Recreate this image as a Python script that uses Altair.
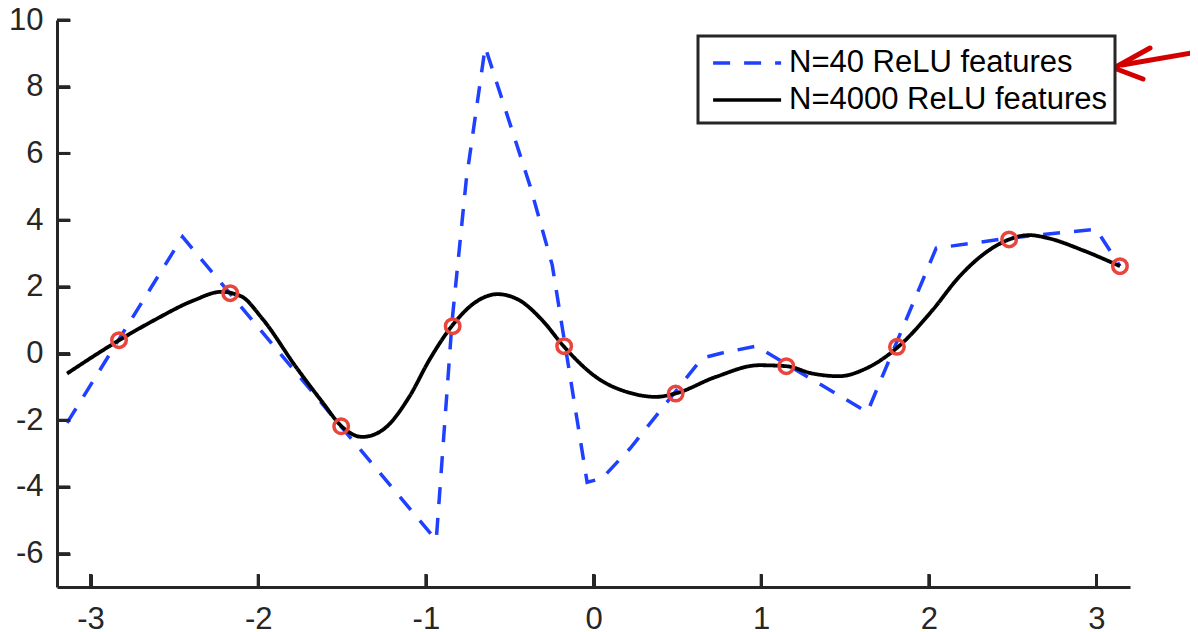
import altair as alt
import pandas as pd

# ---- data ----
dash_x = [-3.14, -2.451, -0.938, -0.843, -0.759, -0.646, -0.378, -0.246, -0.038, 0.052,
          0.219, 0.648, 0.761, 0.970, 1.633, 2.044, 2.479, 2.998, 3.14]
dash_y = [-2.08, 3.50, -5.60, 1.00, 5.20, 9.19, 5.02, 2.65, -3.86, -3.74,
          -2.84, -0.14, 0.01, 0.22, -1.76, 3.16, 3.46, 3.73, 2.62]

smooth_x = [-3.14, -2.829, -2.620, -2.381, -2.222, -2.103, -1.976, -1.775, -1.618,
            -1.499, -1.379, -1.260, -1.099, -0.980, -0.841, -0.701, -0.573, -0.443, -0.306,
            -0.175, 0.014, 0.233, 0.372, 0.487, 0.730, 0.988, 1.151, 1.306, 1.465,
            1.625, 1.817, 2.022, 2.181, 2.360, 2.479, 2.599, 2.718, 2.916, 3.14]
smooth_y = [-0.60, 0.40, 1.00, 1.60, 1.85, 1.72, 1.05, -0.40, -1.45,
            -2.20, -2.50, -2.30, -1.30, -0.20, 0.85, 1.55, 1.78, 1.60, 1.00,
            0.20, -0.70, -1.20, -1.30, -1.20, -0.70, -0.35, -0.38, -0.60, -0.68,
            -0.45, 0.20, 1.30, 2.30, 3.10, 3.42, 3.55, 3.45, 3.10, 2.62]

pts_x = [-2.83, -2.167, -1.505, -0.84, -0.175, 0.49, 1.15, 1.81, 2.479, 3.14]
pts_y = [0.40, 1.81, -2.18, 0.82, 0.22, -1.20, -0.38, 0.20, 3.42, 2.62]

series = ["N=40 ReLU features", "N=4000 ReLU features"]
xticks = [-3, -2, -1, 0, 1, 2, 3]
yticks = [-6, -4, -2, 0, 2, 4, 6, 8, 10]
x_domain = [-3.2, 3.2]
y_domain = [-7, 10]

# ---- tables ----
df_dash = pd.DataFrame({"x": dash_x, "y": dash_y, "s": series[0]})
df_smooth = pd.DataFrame({"x": smooth_x, "y": smooth_y, "s": series[1]})
df_pts = pd.DataFrame({"x": pts_x, "y": pts_y})
df_xt = pd.DataFrame({"v": xticks})
df_yt = pd.DataFrame({"v": yticks})
df_one = pd.DataFrame({"a": [0]})

W, H = 1073, 567
FONT = "Liberation Sans"
AX = "#262626"
TICK = 13
x_tick_len = TICK * (x_domain[1] - x_domain[0]) / W
y_tick_len = TICK * (y_domain[1] - y_domain[0]) / H

xs = alt.Scale(domain=x_domain, nice=False, zero=False)
ys = alt.Scale(domain=y_domain, nice=False, zero=False)

color = alt.Color(
    "s:N",
    scale=alt.Scale(domain=series, range=["#2040ff", "#000000"]),
    legend=alt.Legend(
        title=None, orient="none", legendX=641, legendY=16,
        padding=8, rowPadding=3,
        symbolType="M-0.7,0H3.3", symbolSize=1156, symbolStrokeWidth=3.5,
        labelOffset=45, labelFontSize=31, labelFont=FONT, labelColor="#000000",
        labelLimit=600, fillColor="white", strokeColor=AX,
    ),
)
dash = alt.StrokeDash(
    "s:N",
    scale=alt.Scale(domain=series, range=[[17, 14], [1, 0]]),
    legend=None,
)

# axis ticks point inward: a negative tick size given as an expression
axis_style = dict(domainColor=AX, domainWidth=3, labelColor=AX, labelFontSize=31,
                  labelFont=FONT, grid=False, title=None,
                  ticks=True, tickColor=AX, tickWidth=3,
                  tickSize=alt.ExprRef(expr=str(-TICK)),
                  labelExpr="'' + datum.value")
xaxis = alt.Axis(values=xticks, labelPadding=17 + TICK, **axis_style)
yaxis = alt.Axis(values=yticks, labelPadding=14 + TICK, **axis_style)

dashed = alt.Chart(df_dash).mark_line(strokeWidth=3.5).encode(
    x=alt.X("x:Q", scale=xs, axis=xaxis),
    y=alt.Y("y:Q", scale=ys, axis=yaxis),
    color=color, strokeDash=dash,
)
smooth = alt.Chart(df_smooth).mark_line(strokeWidth=3.8, interpolate="monotone").encode(
    x=alt.X("x:Q", scale=xs),
    y=alt.Y("y:Q", scale=ys),
    color=color, strokeDash=dash,
)
points = alt.Chart(df_pts).mark_point(filled=False, size=210, strokeWidth=3.5,
                                      color="#e8453c", opacity=1).encode(
    x=alt.X("x:Q", scale=xs),
    y=alt.Y("y:Q", scale=ys),
)

# inward tick marks also drawn as rules (same positions as the axis ticks)
xtick_marks = alt.Chart(df_xt).mark_rule(color=AX, strokeWidth=3).encode(
    x=alt.X("v:Q", scale=xs),
    y=alt.datum(y_domain[0], scale=ys),
    y2=alt.datum(y_domain[0] + y_tick_len),
)
ytick_marks = alt.Chart(df_yt).mark_rule(color=AX, strokeWidth=3).encode(
    y=alt.Y("v:Q", scale=ys),
    x=alt.datum(x_domain[0], scale=xs),
    x2=alt.datum(x_domain[0] + x_tick_len),
)

# red hand-drawn arrow pointing at the legend
RED = "#d40000"
arrow_shaft = alt.Chart(df_one).mark_rule(color=RED, strokeWidth=5, strokeCap="round").encode(
    x=alt.value(1140), x2=alt.value(1065), y=alt.value(32), y2=alt.value(45)
)
arrow_b1 = alt.Chart(df_one).mark_rule(color=RED, strokeWidth=5, strokeCap="round").encode(
    x=alt.value(1057), x2=alt.value(1093), y=alt.value(48), y2=alt.value(28)
)
arrow_b2 = alt.Chart(df_one).mark_rule(color=RED, strokeWidth=5, strokeCap="round").encode(
    x=alt.value(1057), x2=alt.value(1086), y=alt.value(48), y2=alt.value(59)
)

chart = alt.layer(
    dashed, smooth, points, xtick_marks, ytick_marks, arrow_shaft, arrow_b1, arrow_b2
).properties(
    width=W, height=H,
    autosize=alt.AutoSizeParams(type="none"),
    padding={"left": 49, "top": 12, "right": 60, "bottom": 45},
).configure_view(
    stroke=None
).configure_legend(
    strokeWidth=3
)

chart.save("out.html", embed_options={"renderer": "svg", "actions": False})
